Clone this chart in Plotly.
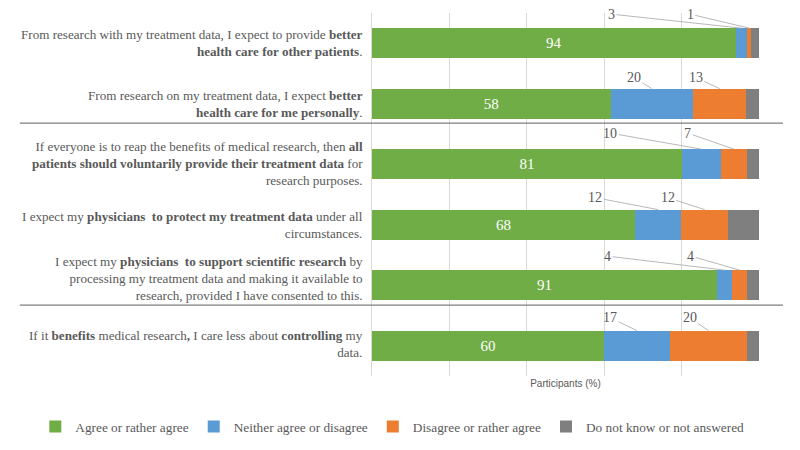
import numpy as np
import plotly.graph_objects as go

statements = [
    "From research with my treatment data, I expect to provide <b>better</b><br><b>health care for other patients</b>.",
    "From research on my treatment data, I expect <b>better</b><br><b>health care for me personally</b>.",
    "If everyone is to reap the benefits of medical research, then <b>all</b><br><b>patients should voluntarily provide their treatment data</b> for<br>research purposes.",
    "I expect my <b>physicians  to protect my treatment data</b> under all<br>circumstances.",
    "I expect my <b>physicians  to support scientific research</b> by<br>processing my treatment data and making it available to<br>research, provided I have consented to this.",
    "If it <b>benefits</b> medical research<b>,</b> I care less about <b>controlling</b> my<br>data.",
]
agree = [94, 58, 81, 68, 91, 60]
neutral = [3, 20, 10, 12, 4, 17]
disagree = [1, 13, 7, 12, 4, 20]
unknown = [2, 3, 3, 8, 3, 3]

series_names = [
    "Agree or rather agree",
    "Neither agree or disagree",
    "Disagree or rather agree",
    "Do not know or not answered",
]
colors = ["#70ad47", "#5b9bd5", "#ed7d31", "#7f7f7f"]

# pixel offsets of the callout labels (blue, orange) per row
label_offsets = [
    [(-130, -14), (-59, -14)],
    [(-18, -11), (-24, -11)],
    [(-91, -16), (-46, -16)],
    [(-63, -12), (-37, -12)],
    [(-117, -14), (-49, -14)],
    [(-27, -13), (-19, -13)],
]
statement_yshift = [0, 0, 1, 0, 7, 2]

serif = "Liberation Serif, Times New Roman, serif"
grey_text = "#595959"

fig = go.Figure()
for name, vals, col in zip(series_names, [agree, neutral, disagree, unknown], colors):
    fig.add_trace(go.Bar(
        y=statements, x=vals, name=name, orientation="h",
        marker=dict(color=col, line=dict(width=0)),
        text=vals if name == series_names[0] else None,
        textposition="inside", insidetextanchor="middle",
        textfont=dict(color="white", size=15, family=serif),
        hoverinfo="x+name",
    ))

# statement texts on the left
for i, s in enumerate(statements):
    fig.add_annotation(
        x=0, y=i, xref="paper", yref="y", text=s, showarrow=False,
        xanchor="right", align="right", xshift=-7, yshift=statement_yshift[i],
        font=dict(family=serif, size=13.1, color=grey_text),
    )

# callout labels for the middle segments
counts = np.array([agree, neutral, disagree, unknown], dtype=float)
pct = counts / counts.sum(axis=0) * 100
cum = np.cumsum(pct, axis=0)
for i in range(len(statements)):
    for k, seg in enumerate([1, 2]):
        mid = cum[seg - 1, i] + pct[seg, i] / 2
        ax, ay = label_offsets[i][k]
        fig.add_annotation(
            x=mid, y=i - 0.25, xref="x", yref="y",
            text=str(int(counts[seg, i])), showarrow=True,
            arrowhead=0, arrowwidth=0.8, arrowcolor="#a6a6a6",
            ax=ax, ay=ay, standoff=0,
            font=dict(family=serif, size=14, color=grey_text),
        )

# group separators
for ysep in [1.32, 4.33]:
    fig.add_shape(type="line", xref="paper", yref="y",
                  x0=-0.91, x1=1.062, y0=ysep, y1=ysep,
                  line=dict(color="#7f7f7f", width=1.2))

fig.update_layout(
    barmode="stack", barnorm="percent", bargap=0.5,
    width=792, height=442,
    margin=dict(l=364, r=41, t=5, b=74, autoexpand=False),
    paper_bgcolor="white", plot_bgcolor="white",
    font=dict(family=serif, color=grey_text),
    legend=dict(orientation="h", x=-0.87, xanchor="left",
                y=-0.14, yanchor="middle",
                font=dict(size=13.3, family=serif, color=grey_text),
                traceorder="normal"),
    showlegend=True,
)
fig.update_xaxes(range=[0, 100.05], dtick=20, showticklabels=False,
                 showgrid=True, gridcolor="#d9d9d9", gridwidth=1,
                 zeroline=False, fixedrange=True, automargin=False,
                 title=dict(text="Participants (%)", standoff=3,
                            font=dict(family="Liberation Sans", size=10, color=grey_text)))
fig.update_yaxes(autorange="reversed", showgrid=False, automargin=False,
                 showline=True, linecolor="#d9d9d9", linewidth=1,
                 showticklabels=False, ticks="")

fig.write_html("out.html")
